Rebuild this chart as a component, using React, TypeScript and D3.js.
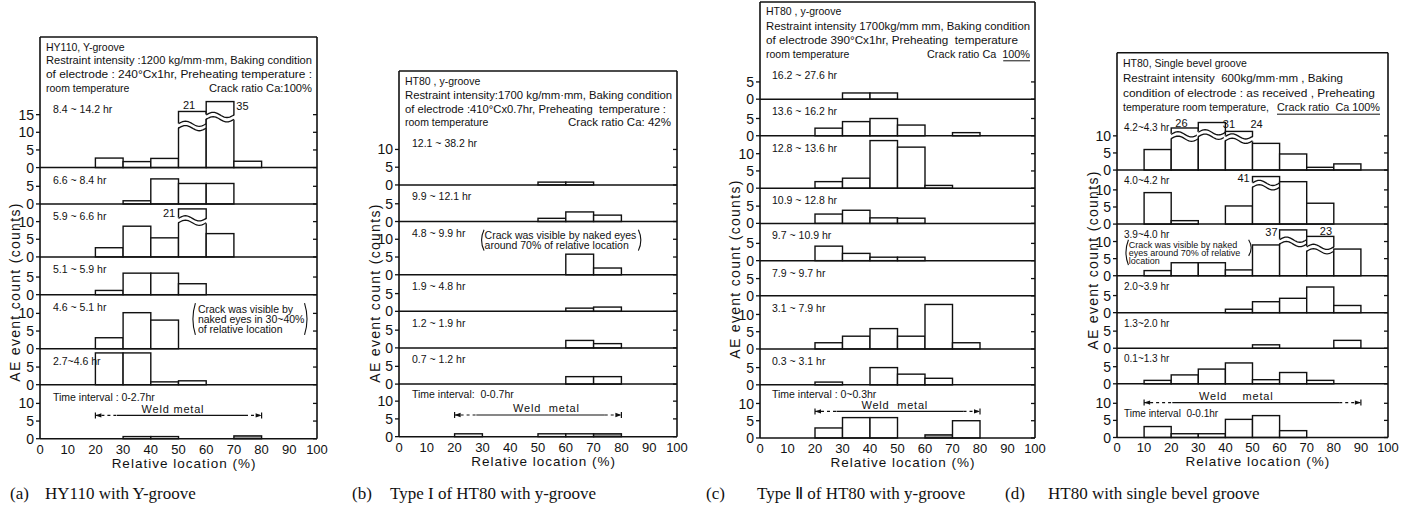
import React from 'react';
import * as d3 from 'd3';

const binStarts = [0, 10, 20, 30, 40, 50, 60, 70, 80, 90];
const binWidth = 10;
const xTicks = [0, 10, 20, 30, 40, 50, 60, 70, 80, 90, 100];
const yTitle = 'AE event count (counts)';
const xTitle = 'Relative location (%)';

// ---------- (a) HY110 with Y-groove ----------
const aRows = ['8.4 ~ 14.2 hr', '6.6 ~ 8.4 hr', '5.9 ~ 6.6 hr', '5.1 ~ 5.9 hr', '4.6 ~ 5.1 hr', '2.7~4.6 hr', 'Time interval : 0-2.7hr'];
const aCounts = [
  [0, 0, 2.7, 1.7, 2.6, 21, 35, 1.8, 0, 0],
  [0, 0, 0, 0.9, 7.1, 5.8, 5.8, 0, 0, 0],
  [0, 0, 2.6, 8.7, 5.4, 21, 6.6, 0, 0, 0],
  [0, 0, 1.2, 6.1, 6.1, 3.1, 0, 0, 0, 0],
  [0, 0, 3.1, 10.2, 8.1, 0, 0, 0, 0, 0],
  [0, 0, 9, 9, 0.8, 1.1, 0, 0, 0, 0],
  [0, 0, 0, 0.6, 0.6, 0, 0, 0.8, 0, 0],
];
const aHeader = ['HY110, Y-groove', 'Restraint intensity :1200 kg/mm·mm, Baking condition', 'of electrode : 240°Cx1hr, Preheating temperature :', 'room temperature'];
const aCrack = 'Crack ratio Ca:100%';
const aNote = ['Crack was visible by', 'naked eyes in 30~40%', 'of relative location'];
const aCaption = ['(a)', 'HY110 with Y-groove'];

// ---------- (b) Type I of HT80 with y-groove ----------
const bRows = ['12.1 ~ 38.2 hr', '9.9 ~ 12.1 hr', '4.8 ~ 9.9 hr', '1.9 ~ 4.8 hr', '1.2 ~ 1.9 hr', '0.7 ~ 1.2 hr', 'Time interval:  0-0.7hr'];
const bCounts = [
  [0, 0, 0, 0, 0, 0.8, 0.8, 0, 0, 0],
  [0, 0, 0, 0, 0, 0.9, 2.7, 1.8, 0, 0],
  [0, 0, 0, 0, 0, 0, 5.8, 1.9, 0, 0],
  [0, 0, 0, 0, 0, 0, 0.9, 1.2, 0, 0],
  [0, 0, 0, 0, 0, 0, 2.1, 1.2, 0, 0],
  [0, 0, 0, 0, 0, 0, 2.1, 2.1, 0, 0],
  [0, 0, 0.8, 0, 0, 0.8, 0.8, 0.8, 0, 0],
];
const bHeader = ['HT80 , y-groove', 'Restraint intensity:1700 kg/mm·mm, Baking condition', 'of electrode :410°Cx0.7hr, Preheating  temperature :', 'room temperature'];
const bCrack = 'Crack ratio Ca: 42%';
const bNote = ['Crack was visible by naked eyes', 'around 70% of relative location'];
const bCaption = ['(b)', 'Type I of HT80 with y-groove'];

// ---------- (c) Type II of HT80 with y-groove ----------
const cRows = ['16.2 ~ 27.6 hr', '13.6 ~ 16.2 hr', '12.8 ~ 13.6 hr', '10.9 ~ 12.8 hr', '9.7 ~ 10.9 hr', '7.9 ~ 9.7 hr', '3.1 ~ 7.9 hr', '0.3 ~ 3.1 hr', 'Time interval : 0~0.3hr'];
const cCounts = [
  [0, 0, 0, 1.8, 1.8, 0, 0, 0, 0, 0],
  [0, 0, 2.2, 4.1, 5, 3.1, 0, 0.9, 0, 0],
  [0, 0, 1.9, 2.9, 13.8, 11.9, 0.8, 0, 0, 0],
  [0, 0, 2.7, 3.8, 1.6, 1.5, 0, 0, 0, 0],
  [0, 0, 4.2, 2.1, 1, 1, 0, 0, 0, 0],
  [0, 0, 0, 0, 0, 0, 0, 0, 0, 0],
  [0, 0, 1.8, 3.7, 5.9, 3.7, 12.9, 1.8, 0, 0],
  [0, 0, 0.8, 0, 5, 3.1, 1.9, 0, 0, 0],
  [0, 0, 2.9, 5.9, 5.9, 0, 0.9, 5, 0, 0],
];
const cHeader = ['HT80 , y-groove', 'Restraint intensity 1700kg/mm mm, Baking condition', 'of electrode 390°Cx1hr, Preheating  temperature', 'room temperature'];
const cCrack = 'Crack ratio Ca  100%';
const cCaption = ['(c)', 'Type Ⅱ of HT80 with y-groove'];

// ---------- (d) HT80 with single bevel groove ----------
const dRows = ['4.2~4.3 hr', '4.0~4.2 hr', '3.9~4.0 hr', '2.0~3.9 hr', '1.3~2.0 hr', '0.1~1.3 hr', 'Time interval  0-0.1hr'];
const dCounts = [
  [0, 6, 26, 31, 24, 7.8, 4.7, 0.8, 1.8, 0],
  [0, 9.2, 1, 0, 5.3, 41, 12.4, 6.1, 0, 0],
  [0, 1.5, 3.8, 3.8, 1.7, 9, 37, 23, 7.8, 0],
  [0, 0, 0, 0, 1, 3.2, 4.2, 7.5, 2.1, 0],
  [0, 0, 0, 0, 0, 1, 0, 0, 2.3, 0],
  [0, 1, 2.6, 4.3, 6.1, 1.2, 3.3, 1, 0, 0],
  [0, 3.2, 1.1, 1.1, 5.3, 6.4, 2, 0, 0, 0],
];
const dHeader = ['HT80, Single bevel groove', 'Restraint intensity  600kg/mm·mm , Baking', 'condition of electrode : as received , Preheating', 'temperature room temperature,'];
const dCrack = 'Crack ratio  Ca 100%';
const dNote = ['Crack was visible by naked', 'eyes around 70% of relative', 'location'];
const dCaption = ['(d)', 'HT80 with single bevel groove'];

const SANS = '"Liberation Sans", Arial, Helvetica, sans-serif';
const SERIF = '"Liberation Serif", "Times New Roman", serif';
const INK = '#111';

const panels = [
  {
    rows: aRows, counts: aCounts, header: aHeader, crack: aCrack, caption: aCaption,
    x0: 40, x1: 317, headTop: 37, top: 97, k: 3.53, gap: 13.7,
    rowMax: [20, 10.3, 15, 10.7, 15.3, 10.2, 15.3],
    headEnd: [null, 312, 312], crackEnd: 312, crackUnder: null,
    labelDx: 13, labelDy: 16, lastLabelDy: 16, labelSize: 10.5,
    breaks: [
      { row: 0, bin: 5, shown: 15.9, cut: 11.8, lx: 53.8, ly: 17.6 },
      { row: 0, bin: 6, shown: 18.7, cut: 14.3, lx: 73.1, ly: 17.4 },
      { row: 2, bin: 5, shown: 13.6, cut: 10.3, lx: 46.6, ly: 12.3 },
    ],
    shaded: [[6, 7]],
    weld: { row: 6, lo: 20, hi: 80, at: 6.6, textAt: 48, text: 'Weld metal' },
    note: { row: 4, lines: aNote, x: 57, ys: [11.1, 8.3, 5.5], pl: 55.2, pr: 96.4, pt: 12.9, pb: 3.9, prb: 3.9, size: 10.5 },
    yTitleX: 15, yTitleCy: 292, capX: 10, capTx: 45,
  },
  {
    rows: bRows, counts: bCounts, header: bHeader, crack: bCrack, caption: bCaption,
    x0: 399, x1: 677, headTop: 71, top: 131.7, k: 3.55, gap: 13.7,
    rowMax: [15, 10.3, 15, 10.3, 10.3, 10.2, 14.8],
    headEnd: [null, 672, 666], crackEnd: 671, crackUnder: null,
    labelDx: 13, labelDy: 15.5, lastLabelDy: 14, labelSize: 10.5,
    breaks: [],
    shaded: [[6, 7]],
    weld: { row: 6, lo: 20, hi: 80, at: 6.1, textAt: 53, text: 'Weld  metal' },
    note: { row: 2, lines: bNote, x: 30.8, ys: [11.1, 8.3], pl: 29.7, pr: 87, pt: 12.7, pb: 6.8, prb: 6.8, size: 10.5 },
    yTitleX: 375, yTitleCy: 293, capX: 352, capTx: 390,
  },
  {
    rows: cRows, counts: cCounts, header: cHeader, crack: cCrack, caption: cCaption,
    x0: 760, x1: 1035, headTop: 2, top: 63.3, k: 3.45, gap: 14.2,
    rowMax: [10.4, 10.6, 15.2, 10.2, 10.8, 10.2, 15.4, 10.4, 15.4],
    headEnd: [null, 1030, 1018], crackEnd: 1030, crackUnder: [0.74, 1],
    labelDx: 12, labelDy: 16, lastLabelDy: 13.5, labelSize: 10.5,
    breaks: [],
    shaded: [[8, 6]],
    weld: { row: 8, lo: 20, hi: 80, at: 7.7, textAt: 49, text: 'Weld  metal' },
    note: null,
    yTitleX: 735, yTitleCy: 269, capX: 706, capTx: 757,
  },
  {
    rows: dRows, counts: dCounts, header: dHeader, crack: dCrack, caption: dCaption,
    x0: 1117, x1: 1388, headTop: 52.7, top: 116.7, k: 3.42, gap: 14.7,
    rowMax: [15.6, 15.8, 15.1, 10.8, 10.4, 10.4, 15.7],
    headEnd: [null, 1343, 1375], crackEnd: 1380, crackUnder: [0, 1],
    labelDx: 7, labelDy: 14, lastLabelDy: 33, labelSize: 10,
    breaks: [
      { row: 0, bin: 2, shown: 12.3, cut: 9.8, lx: 23.8, ly: 13.7 },
      { row: 0, bin: 3, shown: 13.9, cut: 10.4, lx: 41.3, ly: 13.5 },
      { row: 0, bin: 4, shown: 11.3, cut: 9.2, lx: 51.5, ly: 13.5 },
      { row: 1, bin: 5, shown: 13.9, cut: 11.4, lx: 46.7, ly: 13.5 },
      { row: 2, bin: 6, shown: 13.4, cut: 9.9, lx: 57, ly: 12.6 },
      { row: 2, bin: 7, shown: 11.5, cut: 7.8, lx: 77.1, ly: 12.9 },
    ],
    shaded: [],
    weld: { row: 6, lo: 10, hi: 90, at: 10.2, textAt: 44, text: 'Weld    metal' },
    note: { row: 2, lines: dNote, x: 4.3, ys: [9.1, 6.7, 4.4], pl: 3.3, pr: 49.5, pt: 10.5, pb: 3.1, prb: 5.8, size: 9 },
    yTitleX: 1093, yTitleCy: 260, capX: 1005, capTx: 1048,
  },
];

function wavePts(xa: number, xb: number, yc: number, amp: number) {
  return d3.range(0, 1.0001, 0.05).map((t) => [xa + t * (xb - xa), yc - amp * Math.sin(2 * Math.PI * t)] as [number, number]);
}

function Panel({ cfg }: { cfg: any }) {
  const x = d3.scaleLinear().domain([0, 100]).range([cfg.x0, cfg.x1]);
  let acc = cfg.top;
  const rows = cfg.rowMax.map((m: number) => {
    const h = m * cfg.k;
    const y = d3.scaleLinear().domain([0, m]).range([acc + h, acc]);
    const r = { top: acc, bottom: acc + h, y, max: m };
    acc += h;
    return r;
  });
  const bottom = rows[rows.length - 1].bottom;
  const line = d3.line();
  const isShaded = (r: number, b: number) => cfg.shaded.some((s: number[]) => s[0] === r && s[1] === b);
  const findBreak = (r: number, b: number) => cfg.breaks.find((s: any) => s.row === r && s.bin === b);
  const hx = cfg.x0 + 6;
  const centers = [0, 1, 2, 3].map((i) => cfg.top - 9 - (3 - i) * cfg.gap);

  const w = cfg.weld;
  const wr = rows[w.row];
  const wy = wr.y(w.at);
  const wl = x(w.lo), wh = x(w.hi);
  const d1 = wl + (wh - wl) * 0.13, d2 = wh - (wh - wl) * 0.1;

  return (
    <g>
      {/* header box text */}
      {cfg.header.map((t: string, i: number) => (
        <text key={'h' + i} x={hx} y={centers[i] + 3.7} fontSize={10.5} fontFamily={SANS} fill={INK}
          style={{ whiteSpace: 'pre' }}
          {...(cfg.headEnd[i] ? { textLength: cfg.headEnd[i] - hx, lengthAdjust: 'spacingAndGlyphs' } : {})}>{t}</text>
      ))}
      <text x={cfg.crackEnd} y={centers[3] + 3.7} fontSize={10.5} fontFamily={SANS} fill={INK} textAnchor="end"
        textLength={103} lengthAdjust="spacingAndGlyphs" style={{ whiteSpace: 'pre' }}>{cfg.crack}</text>
      {cfg.crackUnder && (
        <line x1={cfg.crackEnd - 103 + 103 * cfg.crackUnder[0]} x2={cfg.crackEnd - 103 + 103 * cfg.crackUnder[1]}
          y1={centers[3] + 6.5} y2={centers[3] + 6.5} stroke={INK} strokeWidth={1} />
      )}
      <line x1={cfg.x0} x2={cfg.x1} y1={cfg.headTop} y2={cfg.headTop} stroke={INK} strokeWidth={1.5} />

      {/* bars */}
      {rows.map((r: any, ri: number) => (
        <g key={'r' + ri}>
          {cfg.counts[ri].map((v: number, bi: number) => {
            if (!v) return null;
            const br = findBreak(ri, bi);
            const top = r.y(br ? br.shown : v);
            const xa = x(binStarts[bi]), xb = x(binStarts[bi] + binWidth);
            return (
              <g key={'b' + bi}>
                <rect x={xa} y={top} width={xb - xa} height={r.bottom - top}
                  fill={isShaded(ri, bi) ? '#9a9a9a' : '#fff'} stroke={INK} strokeWidth={1.4} />
                {br && (() => {
                  const yc = r.y(br.cut);
                  const up = wavePts(xa, xb, yc - 2.2, 2.6);
                  const dn = wavePts(xa, xb, yc + 2.2, 2.6);
                  const band = [...wavePts(xa - 1.5, xb + 1.5, yc - 2.2, 2.6), ...wavePts(xa - 1.5, xb + 1.5, yc + 2.2, 2.6).reverse()];
                  return (
                    <g>
                      <path d={line(band) + 'Z'} fill="#fff" stroke="none" />
                      <path d={line(up) || ''} fill="none" stroke={INK} strokeWidth={1.3} />
                      <path d={line(dn) || ''} fill="none" stroke={INK} strokeWidth={1.3} />
                      <text x={x(br.lx)} y={r.y(br.ly)} dy="0.35em" textAnchor="middle" fontSize={11}
                        fontFamily={SANS} fill={INK}>{v}</text>
                    </g>
                  );
                })()}
              </g>
            );
          })}
          <line x1={cfg.x0} x2={cfg.x1} y1={r.bottom} y2={r.bottom} stroke={INK} strokeWidth={1.5} />
          {d3.range(0, r.max - 1, 5).map((t: number) => (
            <g key={'t' + t}>
              <line x1={cfg.x0 - 4} x2={cfg.x0} y1={r.y(t)} y2={r.y(t)} stroke={INK} strokeWidth={1.3} />
              <line x1={cfg.x1 - 4} x2={cfg.x1} y1={r.y(t)} y2={r.y(t)} stroke={INK} strokeWidth={1.3} />
              <text x={cfg.x0 - 6} y={r.y(t)} dy="0.36em" textAnchor="end" fontSize={14} fontFamily={SANS} fill={INK}>{t}</text>
            </g>
          ))}
          <text x={cfg.x0 + cfg.labelDx} y={r.top + (ri === rows.length - 1 ? cfg.lastLabelDy : cfg.labelDy)} fontSize={cfg.labelSize}
            fontFamily={SANS} fill={INK} style={{ whiteSpace: 'pre' }}>{cfg.rows[ri]}</text>
        </g>
      ))}

      {/* frame */}
      <line x1={cfg.x0} x2={cfg.x0} y1={cfg.headTop} y2={bottom} stroke={INK} strokeWidth={1.6} />
      <line x1={cfg.x1} x2={cfg.x1} y1={cfg.headTop} y2={bottom} stroke={INK} strokeWidth={1.6} />

      {/* weld metal range */}
      <g stroke={INK} strokeWidth={1.2}>
        <line x1={wl} x2={wl} y1={wy - 3} y2={wy + 3} />
        <line x1={wh} x2={wh} y1={wy - 3} y2={wy + 3} />
        <line x1={wl} x2={d1} y1={wy} y2={wy} strokeDasharray="3,3" />
        <line x1={d1} x2={d2} y1={wy} y2={wy} />
        <line x1={d2} x2={wh} y1={wy} y2={wy} strokeDasharray="3,3" />
      </g>
      <path d={`M${wl},${wy}L${wl + 6},${wy - 2.2}L${wl + 6},${wy + 2.2}Z`} fill={INK} />
      <path d={`M${wh},${wy}L${wh - 6},${wy - 2.2}L${wh - 6},${wy + 2.2}Z`} fill={INK} />
      <text x={x(w.textAt)} y={wy - 2.5} textAnchor="middle" fontSize={11} fontFamily={SANS} fill={INK}
        letterSpacing={0.8} style={{ whiteSpace: 'pre' }}>{w.text}</text>

      {/* note */}
      {cfg.note && (() => {
        const n = cfg.note;
        const r = rows[n.row];
        const pl = x(n.pl), pr = x(n.pr);
        const pt = r.y(n.pt), pb = r.y(n.pb), prb = r.y(n.prb);
        return (
          <g>
            {n.lines.map((t: string, i: number) => (
              <text key={'n' + i} x={x(n.x)} y={r.y(n.ys[i])} dy="0.35em" fontSize={n.size} fontFamily={SANS} fill={INK}>{t}</text>
            ))}
            <path d={`M${pl + 2.5},${pt}Q${pl - 2.5},${(pt + pb) / 2} ${pl + 2.5},${pb}`} fill="none" stroke={INK} strokeWidth={1.1} />
            <path d={`M${pr - 2.5},${pt}Q${pr + 2.5},${(pt + prb) / 2} ${pr - 2.5},${prb}`} fill="none" stroke={INK} strokeWidth={1.1} />
          </g>
        );
      })()}

      {/* x axis labels */}
      {xTicks.map((t) => (
        <text key={'x' + t} x={x(t)} y={bottom + 15} textAnchor="middle" fontSize={13} fontFamily={SANS} fill={INK}>{t}</text>
      ))}
      <text x={x(52)} y={bottom + 29} textAnchor="middle" fontSize={13.5} fontFamily={SANS} fill={INK} letterSpacing={1}>{xTitle}</text>
      <text transform={`translate(${cfg.yTitleX},${cfg.yTitleCy}) rotate(-90)`} textAnchor="middle" dy="0.35em"
        fontSize={14} fontFamily={SANS} fill={INK} letterSpacing={1.3} style={{ whiteSpace: 'pre' }}>{yTitle}</text>

      {/* caption */}
      <text x={cfg.capX} y={499} fontSize={17} fontFamily={SERIF} fill={INK}>{cfg.caption[0]}</text>
      <text x={cfg.capTx} y={499} fontSize={17} fontFamily={SERIF} fill={INK}>{cfg.caption[1]}</text>
    </g>
  );
}

export default function App() {
  return (
    <svg width={1425} height={510} viewBox="0 0 1425 510"
      style={{ position: 'absolute', left: 0, top: 0, display: 'block', background: '#fff' }}>
      <rect x={0} y={0} width={1425} height={510} fill="#fff" />
      {panels.map((p, i) => <Panel key={i} cfg={p} />)}
    </svg>
  );
}
